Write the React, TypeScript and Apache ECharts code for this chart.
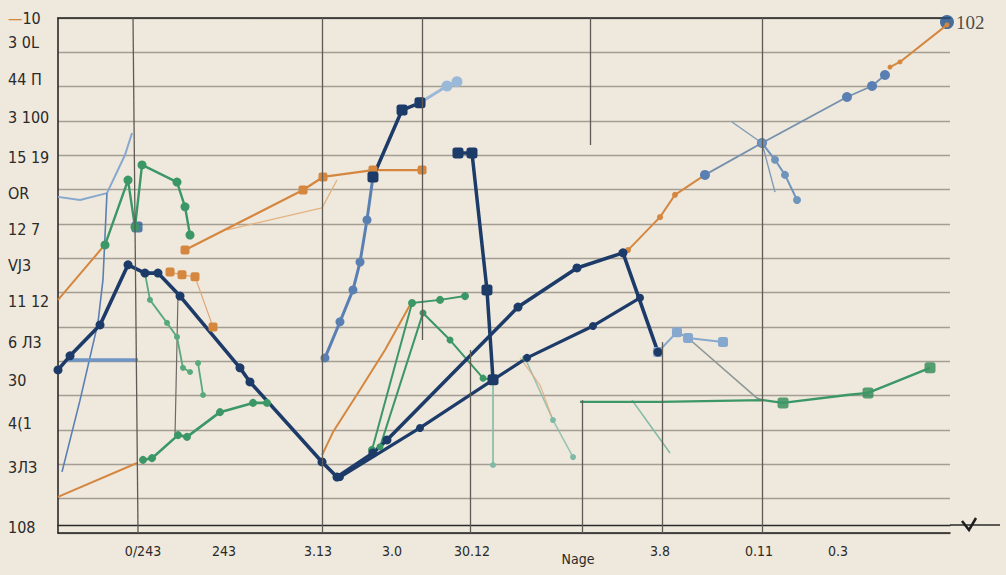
import { useEffect, useRef } from "react";
import * as echarts from "echarts";

// ---- tick labels ----
const Y_LABEL_VALUES = [15, 14.3, 13.2, 12.1, 10.95, 9.9, 8.85, 7.8, 6.75, 5.55, 4.45, 3.2, 1.9, 0.17];
const Y_LABELS = ["—10", "3 0L", "44 Π", "3 100", "15 19", "OR", "12 7", "VJ3", "11 12", "6 Л3", "30", "4(1", "3ЛЗ", "108"];
const X_LABEL_VALUES = [9.53, 18.61, 29.15, 37.44, 46.41, 58.3, 67.49, 78.59, 87.44];
const X_LABELS = ["0/243", "243", "3.13", "3.0", "30.12", "Nage", "3.8", "0.11", "0.3"];
const END_LABEL = "102";

// ---- vertical grid segments [x1, y1, x2, y2] ----
const V_GRID = [
  [8.41, 15, 8.97, 0],
  [29.6, 15, 29.6, 0],
  [40.81, 15, 40.81, 5.62],
  [46.19, 5.33, 46.19, 0],
  [59.64, 15, 59.64, 11.3],
  [58.74, 3.87, 58.74, 0],
  [67.71, 5.56, 67.71, 0],
  [78.92, 15, 78.92, 0],
];

// ---- series values [x, y] ----
const NAVY_A = [[0, 4.75], [1.35, 5.16], [4.71, 6.06], [7.85, 7.81], [9.75, 7.57], [11.21, 7.57], [13.68, 6.9], [20.4, 4.81], [21.52, 4.4], [29.6, 2.07], [31.28, 1.63], [35.31, 2.33], [36.88, 2.71], [51.57, 6.58], [58.18, 7.72], [63.34, 8.16], [67.26, 5.27]];
const NAVY_B = [[31.61, 1.63], [40.58, 3.06], [48.77, 4.46], [52.58, 5.1], [59.98, 6.03], [65.25, 6.85]];
const NAVY_C = [[44.84, 11.07], [46.41, 11.07], [48.09, 7.08], [48.77, 4.46]];
const NAVY_D = [[35.31, 10.37], [38.57, 12.32], [40.58, 12.53]];
const STEEL_UP = [[29.93, 5.1], [31.61, 6.15], [33.07, 7.08], [33.86, 7.89], [34.64, 9.12], [35.31, 10.37]];
const PALE_TOP = [[40.58, 12.53], [43.61, 13.02], [44.73, 13.14]];
const ORANGE_TOP = [[14.24, 8.24], [27.47, 9.99], [29.71, 10.37], [35.31, 10.57], [40.81, 10.57]];
const ORANGE_FAINT = [[18.95, 8.83], [29.6, 9.47], [31.28, 10.28]];
const ORANGE_LOW = [[0, 1.05], [8.86, 2.04]];
const ORANGE_LEFT = [[0, 6.79], [5.04, 8.33]];
const ORANGE_MID = [[29.6, 2.27], [30.83, 2.94], [33.86, 4.17], [36.66, 5.33], [39.46, 6.64]];
const ORANGE_DOTS = [[12.56, 7.6], [13.9, 7.52], [15.36, 7.46], [17.38, 6.0]];
const ORANGE_FADE = [[51.79, 5.1], [54.04, 4.31], [55.49, 3.29]];
const ORANGE_RIGHT = [[63.9, 8.24], [67.49, 9.2], [69.17, 9.85], [72.53, 10.43]];
const ORANGE_TOPRIGHT = [[93.27, 13.57], [94.39, 13.72], [99.66, 14.8]];
const SLATE = [[72.53, 10.43], [78.92, 11.36], [88.45, 12.7], [91.26, 13.02], [92.71, 13.34]];
const SLATE_HANG = [[78.92, 11.36], [80.38, 10.87], [81.5, 10.43], [82.85, 9.7]];
const SLATE_X = [[75.56, 11.97], [78.92, 11.36], [80.38, 9.93]];
const LB_LEFT1 = [[0, 9.79], [2.47, 9.7], [5.49, 9.9], [7.51, 11.01], [8.3, 11.65]];
const LB_LEFT2 = [[0.45, 1.78], [2.47, 3.87], [4.48, 6.12], [5.04, 7.37], [5.49, 9.9]];
const LB_FLAT = [[1.0, 5.04], [8.97, 5.04]];
const GREEN_1 = [[5.27, 8.39], [7.85, 10.28], [8.63, 8.91], [9.42, 10.72], [13.34, 10.22], [14.24, 9.5], [14.8, 8.68]];
const GREEN_2 = [[9.53, 2.13], [10.54, 2.18], [13.45, 2.85], [14.46, 2.8], [18.16, 3.52], [21.86, 3.79], [23.43, 3.79]];
const GREEN_3 = [[9.75, 7.57], [10.31, 6.79], [12.22, 6.12], [13.34, 5.71], [14.01, 4.81], [14.8, 4.69]];
const GREEN_3B = [[15.7, 4.95], [16.26, 4.02]];
const GREY_V = [[13.45, 6.9], [13.12, 2.85]];
const GREEN_4 = [[35.2, 2.42], [39.69, 6.7], [42.83, 6.79], [45.63, 6.9]];
const GREEN_5 = [[36.1, 2.51], [40.92, 6.41], [43.95, 5.62], [47.65, 4.51], [48.77, 4.46]];
const TEAL_V = [[48.77, 4.46], [48.77, 1.98]];
const GREEN_RIGHT = [[58.52, 3.82], [67.49, 3.82], [79.04, 3.87], [81.28, 3.79], [88.45, 4.02], [90.81, 4.08], [97.76, 4.81]];
const GREEN_RIGHT_MARKS = [[81.28, 3.79], [90.81, 4.08], [97.76, 4.81]];
const GREY_DIAG = [[70.63, 5.68], [78.36, 3.93], [79.04, 3.87]];
const LB_RIGHT = [[67.26, 5.27], [69.39, 5.85], [70.63, 5.68], [74.55, 5.56]];
const TEAL_D = [[64.35, 3.87], [68.61, 2.33]];
const TEAL_L = [[52.35, 5.1], [55.49, 3.29], [57.74, 2.21]];
const BLUE_SQ = [[8.86, 8.91]];
const END_POINT = [[99.66, 14.88]];

const NAVY = "#1d3b69";
const STEEL = "#5a80b3";
const LIGHT = "#86a8cf";
const ORANGE = "#d5873f";
const GREEN = "#3c9767";
const TEAL = "#7fbaa6";
const GREY = "#8d9895";

function line(name: string, data: number[][], color: string, width: number, extra: any = {}) {
  return {
    name,
    type: "line",
    data,
    lineStyle: { color, width },
    itemStyle: { color },
    symbol: "circle",
    symbolSize: 7,
    showSymbol: true,
    silent: true,
    ...extra,
  };
}

export default function App() {
  const ref = useRef<HTMLDivElement>(null);
  useEffect(() => {
    if (!ref.current) return;
    const chart = echarts.init(ref.current, undefined, { renderer: "svg" });
    const labelFont = "'Liberation Sans Narrow', 'DejaVu Sans Condensed', 'Liberation Sans', sans-serif";
    const nearest = (vals: number[], v: number) => {
      let best = 0;
      vals.forEach((x, i) => {
        if (Math.abs(x - v) < Math.abs(vals[best] - v)) best = i;
      });
      return best;
    };
    const option: any = {
      animation: false,
      backgroundColor: "#efe8dc",
      grid: { left: 58, right: 56, top: 18, bottom: 42, outerBoundsMode: "none" },
      xAxis: [
        {
          type: "value",
          min: 0,
          max: 100,
          position: "bottom",
          axisLine: { show: true, lineStyle: { color: "#1f1f1f", width: 1.6 } },
          axisTick: { show: false },
          splitLine: { show: false },
          axisLabel: {
            customValues: X_LABEL_VALUES,
            margin: 11,
            fontSize: 14,
            color: "#2a2a2a",
            fontFamily: labelFont,
            formatter: (v: number) => {
              const i = nearest(X_LABEL_VALUES, v);
              const t = X_LABELS[i];
              return t === "Nage" ? "{low|" + t + "}" : t;
            },
            rich: { low: { padding: [8, 0, 0, 0], fontSize: 14, color: "#2a2a2a", fontFamily: labelFont } },
          },
        },
        {
          type: "value",
          min: 0,
          max: 100,
          position: "bottom",
          offset: -8,
          axisLine: { show: true, lineStyle: { color: "#2a2a2a", width: 1.4 } },
          axisTick: { show: false },
          axisLabel: { show: false },
          splitLine: { show: false },
        },
        {
          type: "value",
          min: 0,
          max: 100,
          position: "top",
          axisLine: { show: true, lineStyle: { color: "#1f1f1f", width: 1.6 } },
          axisTick: { show: false },
          axisLabel: { show: false },
          splitLine: { show: false },
        },
      ],
      yAxis: {
        type: "value",
        min: 0,
        max: 15,
        interval: 1,
        axisLine: { show: true, lineStyle: { color: "#2a2a2a", width: 1.6 } },
        axisTick: { show: false },
        splitLine: { show: true, lineStyle: { color: "#a39d93", width: 1.4 } },
        axisLabel: {
          customValues: Y_LABEL_VALUES,
          align: "left",
          margin: 50,
          fontSize: 16,
          color: "#2a2a2a",
          fontFamily: labelFont,
          formatter: (v: number) => {
            const i = nearest(Y_LABEL_VALUES, v);
            const t = Y_LABELS[i];
            return t.startsWith("—") ? "{dash|—}" + t.slice(1) : t;
          },
          rich: { dash: { color: ORANGE, fontSize: 16 } },
        },
      },
      graphic: [
        { type: "line", shape: { x1: 950, y1: 525, x2: 1000, y2: 525 }, style: { stroke: "#2a2a2a", lineWidth: 1.4 } },
        { type: "polyline", shape: { points: [[962, 521], [969, 530], [976, 518]] }, style: { stroke: "#1f1f1f", lineWidth: 2.5, fill: "none" } },
      ],
      series: [
        {
          name: "grid",
          type: "line",
          data: [],
          silent: true,
          z: 1,
          markLine: {
            silent: true,
            symbol: ["none", "none"],
            label: { show: false },
            lineStyle: { color: "#5e5a55", width: 1.3, type: "solid" },
            data: V_GRID.map((g) => [{ coord: [g[0], g[1]] }, { coord: [g[2], g[3]] }]),
          },
        },
        line("teal-l", TEAL_L, TEAL, 1.5, { symbolSize: 6, lineStyle: { color: TEAL, width: 1.5, opacity: 0.8 } }),
        line("teal-d", TEAL_D, TEAL, 1.5, { symbol: "none" }),
        line("orange-fade", ORANGE_FADE, "#e0a878", 1.2, { symbol: "none", lineStyle: { color: "#e0a878", width: 1.2, opacity: 0.8 } }),
        line("grey-v", GREY_V, "#6d6a66", 1.2, { symbol: "none" }),
        line("grey-diag", GREY_DIAG, GREY, 1.6, { symbol: "none" }),
        line("teal-v", TEAL_V, TEAL, 1.6, { symbolSize: 6 }),
        line("orange-faint", ORANGE_FAINT, "#e3b27f", 1.3, { symbol: "none" }),
        line("orange-low", ORANGE_LOW, ORANGE, 2, { symbol: "none" }),
        line("orange-left", ORANGE_LEFT, ORANGE, 2, { symbol: "none" }),
        line("orange-dots", ORANGE_DOTS, ORANGE, 1.2, { symbol: "roundRect", symbolSize: 9, lineStyle: { color: "#e0a878", width: 1.2 } }),
        line("orange-top", ORANGE_TOP, ORANGE, 2.2, { symbol: "roundRect", symbolSize: 9 }),
        line("orange-mid", ORANGE_MID, ORANGE, 2, { symbol: "none" }),
        line("orange-right", ORANGE_RIGHT, ORANGE, 2, { symbolSize: 6 }),
        line("orange-topright", ORANGE_TOPRIGHT, ORANGE, 2, { symbolSize: 5 }),
        line("green-1", GREEN_1, GREEN, 2.4, { symbolSize: 9 }),
        line("green-2", GREEN_2, GREEN, 2.6, { symbolSize: 8 }),
        line("green-3", GREEN_3, "#58aa7c", 1.8, { symbolSize: 6 }),
        line("green-3b", GREEN_3B, "#58aa7c", 1.8, { symbolSize: 6 }),
        line("green-4", GREEN_4, GREEN, 2, { symbolSize: 8 }),
        line("green-5", GREEN_5, GREEN, 2, { symbolSize: 7 }),
        line("green-right", GREEN_RIGHT, GREEN, 2.4, { symbol: "none" }),
        {
          name: "green-right-marks",
          type: "scatter",
          data: GREEN_RIGHT_MARKS,
          symbol: "roundRect",
          symbolSize: 11,
          itemStyle: { color: "#2f8a55" },
          silent: true,
        },
        line("lb-left1", LB_LEFT1, LIGHT, 2, { symbol: "none" }),
        line("lb-left2", LB_LEFT2, STEEL, 1.6, { symbol: "none" }),
        line("lb-flat", LB_FLAT, "#6e95c5", 3.5, { symbol: "none" }),
        line("lb-right", LB_RIGHT, LIGHT, 2, { symbol: "roundRect", symbolSize: 10 }),
        line("slate", SLATE, "#7590ad", 1.8, { symbolSize: 10, itemStyle: { color: STEEL } }),
        line("slate-hang", SLATE_HANG, "#6f95bd", 2, { symbolSize: 8 }),
        line("slate-x", SLATE_X, "#7f9bb6", 1.4, { symbol: "none" }),
        line("steel-up", STEEL_UP, STEEL, 3, { symbolSize: 9 }),
        line("pale-top", PALE_TOP, "#9ab8d8", 3, { symbolSize: 11 }),
        line("navy-d", NAVY_D, NAVY, 3.5, { symbolSize: 11, symbol: "roundRect" }),
        line("navy-c", NAVY_C, NAVY, 3.5, { symbolSize: 11, symbol: "roundRect" }),
        line("navy-b", NAVY_B, NAVY, 3.2, { symbolSize: 8 }),
        line("navy-a", NAVY_A, NAVY, 3.6, { symbolSize: 9 }),
        {
          name: "blue-sq",
          type: "scatter",
          data: BLUE_SQ,
          symbol: "roundRect",
          symbolSize: 11,
          itemStyle: { color: "#2c5f93" },
          silent: true,
        },
        {
          name: "end",
          type: "scatter",
          data: END_POINT,
          symbolSize: 14,
          itemStyle: { color: "#1f4f8a" },
          silent: true,
          label: {
            show: true,
            position: "right",
            distance: 2,
            formatter: () => END_LABEL,
            fontFamily: "'Liberation Serif', 'DejaVu Serif', serif",
            fontSize: 19,
            color: "#222",
          },
        },
      ],
    };
    chart.setOption(option);
    return () => chart.dispose();
  }, []);
  return (
    <div
      ref={ref}
      style={{ position: "fixed", left: 0, top: 0, width: 1006, height: 575, background: "#efe8dc" }}
    />
  );
}
